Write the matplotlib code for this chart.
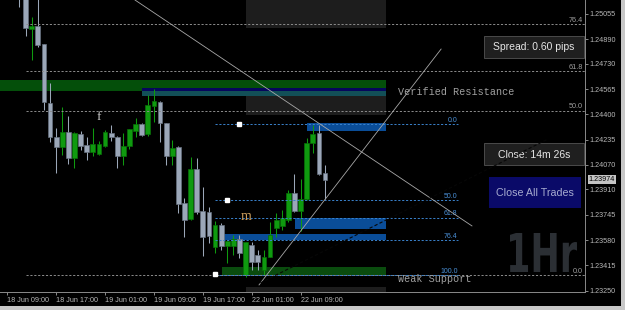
import numpy as np
import matplotlib
matplotlib.use("Agg")
import matplotlib.pyplot as plt
from matplotlib.patches import Rectangle, PathPatch
from matplotlib.textpath import TextPath
from matplotlib.font_manager import FontProperties
from matplotlib.transforms import Affine2D, blended_transform_factory

plt.rcParams['font.family'] = ['Liberation Sans', 'DejaVu Sans']

# H1 candles, bar 0 = 18 Jun 09:00 (weekend bars skipped)
bars = np.arange(2, 53)
opens = [1.25342, 1.25211, 1.24957, 1.24976, 1.24859, 1.24474, 1.24252, 1.24187, 1.24285, 1.24115,
         1.24272, 1.24200, 1.24155, 1.24141, 1.24194, 1.24278, 1.24252, 1.24128, 1.24194, 1.24291,
         1.24337, 1.24272, 1.24455, 1.24481, 1.24344, 1.24128, 1.24187, 1.23822, 1.23717, 1.24044,
         1.23770, 1.23763, 1.23535, 1.23678, 1.23541, 1.23541, 1.23587, 1.23352, 1.23548, 1.23483,
         1.23385, 1.23470, 1.23659, 1.23672, 1.23711, 1.23887, 1.23770, 1.23848, 1.24213, 1.24278,
         1.24018]
highs = [1.25374, 1.25244, 1.25035, 1.25179, 1.24859, 1.24605, 1.24311, 1.24448, 1.24389, 1.24285,
         1.24291, 1.24252, 1.24311, 1.24226, 1.24298, 1.24331, 1.24259, 1.24278, 1.24305, 1.24376,
         1.24344, 1.24526, 1.24565, 1.24487, 1.24344, 1.24233, 1.24194, 1.23854, 1.24122, 1.24115,
         1.23926, 1.23796, 1.23704, 1.23691, 1.23580, 1.23613, 1.23613, 1.23567, 1.23567, 1.23515,
         1.23515, 1.23698, 1.23757, 1.23776, 1.23907, 1.24011, 1.23978, 1.24246, 1.24331, 1.24331,
         1.24070]
lows = [1.25100, 1.24911, 1.24755, 1.24839, 1.24428, 1.24220, 1.24018, 1.24135, 1.24076, 1.24050,
        1.24168, 1.24102, 1.24128, 1.24135, 1.24187, 1.24226, 1.24050, 1.24070, 1.24174, 1.24252,
        1.24259, 1.24259, 1.24350, 1.24220, 1.24070, 1.24070, 1.23757, 1.23600, 1.23711, 1.23750,
        1.23476, 1.23561, 1.23496, 1.23515, 1.23430, 1.23483, 1.23463, 1.23339, 1.23385, 1.23385,
        1.23352, 1.23470, 1.23600, 1.23646, 1.23698, 1.23763, 1.23639, 1.23841, 1.24148, 1.24004,
        1.23848]
closes = [1.25179, 1.24963, 1.24976, 1.24852, 1.24481, 1.24252, 1.24187, 1.24285, 1.24115, 1.24278,
          1.24194, 1.24155, 1.24207, 1.24207, 1.24285, 1.24252, 1.24128, 1.24194, 1.24305, 1.24337,
          1.24265, 1.24461, 1.24487, 1.24344, 1.24128, 1.24181, 1.23815, 1.23711, 1.24044, 1.23763,
          1.23600, 1.23607, 1.23678, 1.23541, 1.23574, 1.23587, 1.23496, 1.23567, 1.23437, 1.23437,
          1.23470, 1.23613, 1.23711, 1.23724, 1.23887, 1.23770, 1.23848, 1.24213, 1.24272, 1.24011,
          1.23974]
last_price = 1.23974

time_ticks = [0, 8, 16, 24, 32, 40, 48]
time_labels = ['18 Jun 09:00', '18 Jun 17:00', '19 Jun 01:00', '19 Jun 09:00',
               '19 Jun 17:00', '22 Jun 01:00', '22 Jun 09:00']
price_ticks = [1.25055, 1.24890, 1.24730, 1.24565, 1.24400, 1.24235,
               1.24070, 1.23910, 1.23745, 1.23580, 1.23415, 1.23250]

# supply / demand zones: (start bar, end bar, low, high, colour)
zones = [
    (-5, 62, 1.24552, 1.24624, '#044f0a'),
    (22, 62, 1.24552, 1.24572, '#06065c'),
    (22, 62, 1.24520, 1.24552, '#124f57'),
    (39.06, 62, 1.24963, 1.25300, '#1d1d1d'),
    (39.06, 62, 1.24396, 1.24520, '#1d1d1d'),
    (39.06, 62, 1.23150, 1.23274, '#1d1d1d'),
    (49.05, 62, 1.24291, 1.24344, '#0a4d98'),
    (47.1, 62, 1.23652, 1.23724, '#0a4d98'),
    (35.5, 62, 1.23580, 1.23620, '#0a4d98'),
    (35.1, 62, 1.23352, 1.23404, '#0a4c0e'),
]

# fibonacci levels
fib1_levels = [1.24989, 1.24683, 1.24425, 1.23352]
fib1_labels = ['76.4', '61.8', '50.0', '0.0']
fib2_levels = [1.24334, 1.23841, 1.23727, 1.23580, 1.23352]
fib2_labels = ['0.0', '50.0', '61.8', '76.4', '100.0']

fig = plt.figure(figsize=(6.25, 3.1), dpi=100, facecolor='black')

# screen overlay (buttons, watermark) in pixel coords
ui = fig.add_axes([0, 0, 1, 1], zorder=0)
ui.set_xlim(0, 625)
ui.set_ylim(310, 0)
ui.axis('off')
ui.set_facecolor('black')

ax = fig.add_axes([0, 18 / 310, 585 / 625, 292 / 310], zorder=1)
ax.set_facecolor('none')
ax.set_xlim(-1.19, 94.55)
ax.set_ylim(1.23241, 1.25146)

for b, e, lo, hi, c in zones:
    ax.add_patch(Rectangle((b, lo), e - b, hi - lo, facecolor=c, edgecolor='none', zorder=1))

# candles
o = np.array(opens); h = np.array(highs); l = np.array(lows); c = np.array(closes)
up = c > o
body_col = np.where(up, '#0f9a0f', '#9ba7b8')
edge_col = np.where(up, '#077007', '#66717f')
ax.vlines(bars, l, h, colors=body_col, lw=0.75, zorder=3)
ax.bar(bars, np.maximum(np.abs(c - o), 0.00002), bottom=np.minimum(o, c), width=0.78,
       color=body_col, edgecolor=edge_col, linewidth=0.5, zorder=4)

dots = (0, (2.2, 1.8))
ax.hlines(fib1_levels, 3.06, 94.55, colors='#8c8c8c', linestyles=[dots], lw=0.7, zorder=5)
for lv, lb in zip(fib1_levels, fib1_labels):
    ax.text(94.2, lv + 0.00002, lb, color='#a0a0a0', fontsize=5.2, ha='right', va='bottom', zorder=6)
ax.hlines(fib2_levels, 34.0, 73.7, colors='#3a82cc', linestyles=[dots], lw=0.7, zorder=5)
for lv, lb in zip(fib2_levels, fib2_labels):
    ax.text(73.7, lv + 0.00002, lb, color='#4a90d8', fontsize=5.0, ha='right', va='bottom', zorder=6)
ax.plot([34.0, 36.0, 37.9], [1.23359, 1.23841, 1.24337], ls='none', marker='s', ms=2.2,
        color='white', zorder=7)

# trend lines
ax.plot([20.9, 76.05], [1.25146, 1.23672], color='#a8a8a8', lw=0.6, zorder=6)
ax.plot([41.2, 71.0], [1.23287, 1.24826], color='#a8a8a8', lw=0.6, zorder=6)
ax.plot([41.4, 88.5], [1.23300, 1.24239], color='#070707', lw=0.8, ls=(0, (3, 2)), zorder=6)

ax.text(64, 1.24546, 'Verified Resistance', family='Liberation Mono', fontsize=7.3,
        color='#a0a0a0', ha='left', va='center', zorder=6)
ax.text(64, 1.23327, 'Weak Support', family='Liberation Mono', fontsize=7.3,
        color='#a0a0a0', ha='left', va='center', zorder=6)
ax.text(15.0, 1.24383, 'f', family='Liberation Serif', fontsize=9.5, color='#c8c8c8',
        ha='center', va='center', zorder=6)
ax.text(39.1, 1.23735, 'm', family='Liberation Serif', fontsize=10, color='#c89a5a',
        ha='center', va='center', zorder=6)

# axes styling
for s in ['top', 'left']:
    ax.spines[s].set_visible(False)
for s in ['right', 'bottom']:
    ax.spines[s].set_color('#8a8a8a')
    ax.spines[s].set_linewidth(0.7)
ax.yaxis.tick_right()
ax.set_yticks(price_ticks)
ax.set_yticklabels(['%.5f' % p for p in price_ticks])
ax.set_xticks(time_ticks)
ax.set_xticklabels(time_labels, ha='left')
ax.tick_params(axis='both', colors='#8a8a8a', labelcolor='#b8b8b8', length=2.2,
               width=0.7, pad=1.2, labelsize=5.2)
trans = blended_transform_factory(ax.transAxes, ax.transData)
ax.text(1.006, last_price, '%.5f' % last_price, transform=trans, fontsize=5.2, color='black',
        ha='left', va='center', bbox=dict(facecolor='#c4c4c4', edgecolor='none', pad=0.6),
        clip_on=False, zorder=8)

# info boxes
for y0, txt in [(36, 'Spread: 0.60 pips'), (143, 'Close: 14m 26s')]:
    ui.add_patch(Rectangle((484, y0), 100, 22, facecolor='#1f1f1f', edgecolor='#4a4a4a', lw=0.7))
    ui.text(534, y0 + 11.5, txt, color='#e6e6e6', fontsize=7.5, ha='center', va='center')
ui.add_patch(Rectangle((489, 177), 92, 31, facecolor='#0a0a68', edgecolor='none'))
ui.text(535, 193, 'Close All Trades', color='#a8acd0', fontsize=7.7, ha='center', va='center')

# timeframe watermark
tp = TextPath((0, 0), '1Hr', size=1, prop=FontProperties(family='DejaVu Sans', weight='bold'))
bb = tp.get_extents()
tr = Affine2D().translate(-bb.x0, -bb.y0).scale(67 / bb.width, -39 / bb.height).translate(510, 272)
ui.add_patch(PathPatch(tr.transform_path(tp), facecolor='#2b2f34', edgecolor='none'))

# window frame
ui.add_patch(Rectangle((621, 0), 4, 310, facecolor='#c8c8c8', edgecolor='none'))
ui.add_patch(Rectangle((0, 306), 625, 4, facecolor='#c8c8c8', edgecolor='none'))

fig.savefig('out.png', dpi=100, facecolor='black')
